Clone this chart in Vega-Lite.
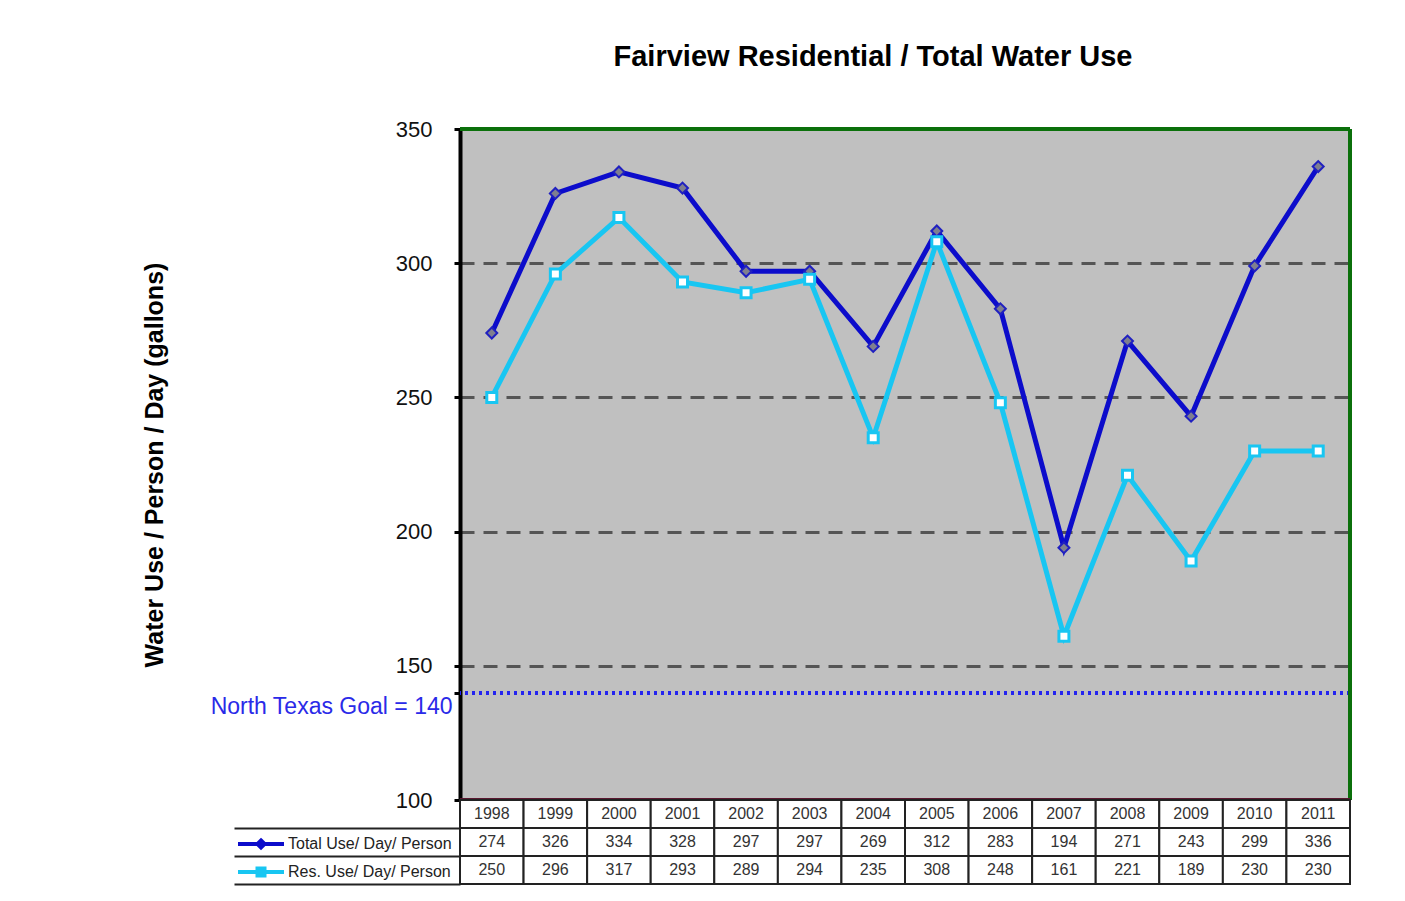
{
  "$schema": "https://vega.github.io/schema/vega-lite/v6.json",
  "padding": {"left": 142, "top": 43, "right": 10, "bottom": 5},
  "background": "white",
  "bounds": "flush",
  "spacing": 0,
  "config": {
    "font": "Liberation Sans",
    "view": {"stroke": null},
    "concat": {"spacing": 0}
  },
  "datasets": {
    "water": [
      {"year": "1998", "series": "Total Use/ Day/ Person", "value": 274},
      {"year": "1999", "series": "Total Use/ Day/ Person", "value": 326},
      {"year": "2000", "series": "Total Use/ Day/ Person", "value": 334},
      {"year": "2001", "series": "Total Use/ Day/ Person", "value": 328},
      {"year": "2002", "series": "Total Use/ Day/ Person", "value": 297},
      {"year": "2003", "series": "Total Use/ Day/ Person", "value": 297},
      {"year": "2004", "series": "Total Use/ Day/ Person", "value": 269},
      {"year": "2005", "series": "Total Use/ Day/ Person", "value": 312},
      {"year": "2006", "series": "Total Use/ Day/ Person", "value": 283},
      {"year": "2007", "series": "Total Use/ Day/ Person", "value": 194},
      {"year": "2008", "series": "Total Use/ Day/ Person", "value": 271},
      {"year": "2009", "series": "Total Use/ Day/ Person", "value": 243},
      {"year": "2010", "series": "Total Use/ Day/ Person", "value": 299},
      {"year": "2011", "series": "Total Use/ Day/ Person", "value": 336},
      {"year": "1998", "series": "Res. Use/ Day/ Person", "value": 250},
      {"year": "1999", "series": "Res. Use/ Day/ Person", "value": 296},
      {"year": "2000", "series": "Res. Use/ Day/ Person", "value": 317},
      {"year": "2001", "series": "Res. Use/ Day/ Person", "value": 293},
      {"year": "2002", "series": "Res. Use/ Day/ Person", "value": 289},
      {"year": "2003", "series": "Res. Use/ Day/ Person", "value": 294},
      {"year": "2004", "series": "Res. Use/ Day/ Person", "value": 235},
      {"year": "2005", "series": "Res. Use/ Day/ Person", "value": 308},
      {"year": "2006", "series": "Res. Use/ Day/ Person", "value": 248},
      {"year": "2007", "series": "Res. Use/ Day/ Person", "value": 161},
      {"year": "2008", "series": "Res. Use/ Day/ Person", "value": 221},
      {"year": "2009", "series": "Res. Use/ Day/ Person", "value": 189},
      {"year": "2010", "series": "Res. Use/ Day/ Person", "value": 230},
      {"year": "2011", "series": "Res. Use/ Day/ Person", "value": 230}
    ]
  },
  "vconcat": [
    {
      "width": 890,
      "height": 671,
      "view": {"fill": "#C0C0C0", "stroke": null},
      "title": {
        "text": "Fairview Residential / Total Water Use",
        "fontSize": 29,
        "fontWeight": "bold",
        "color": "#000000",
        "offset": 46,
        "dx": -32
      },
      "data": {"name": "water"},
      "layer": [
        {
          "mark": {"type": "rule", "color": "#2424F0", "strokeWidth": 3, "strokeDash": [3, 4]},
          "encoding": {"y": {"datum": 140, "type": "quantitative"}}
        },
        {
          "mark": {"type": "line", "strokeWidth": 5},
          "encoding": {
            "x": {"field": "year", "type": "ordinal", "scale": {"type": "point", "padding": 0.5}, "axis": null},
            "y": {
              "field": "value",
              "type": "quantitative",
              "scale": {"domain": [100, 350], "nice": false, "zero": false},
              "axis": {
                "values": [100, 140, 150, 200, 250, 300, 350],
                "title": "Water Use / Person / Day (gallons)",
                "titleFontSize": 25,
                "titleFontWeight": "bold",
                "titleColor": "#000000",
                "titlePadding": 93,
                "labelFontSize": {"condition": {"test": "datum.value == 140", "value": 23}, "value": 22},
                "labelLimit": 320,
                "labelOverlap": false,
                "labelBound": false,
                "labelExpr": "datum.value == 140 ? 'North Texas Goal = 140' : datum.label",
                "labelColor": {"condition": {"test": "datum.value == 140", "value": "#2A2AE8"}, "value": "#111111"},
                "labelOffset": {"condition": {"test": "datum.value == 140", "value": 14}, "value": 0},
                "labelPadding": {"condition": {"test": "datum.value == 140", "value": 2}, "value": 22},
                "tickSize": 6,
                "tickWidth": 3,
                "tickColor": "#000000",
                "domainColor": "#000000",
                "domainWidth": 4,
                "grid": true,
                "gridColor": "#555555",
                "gridWidth": 3,
                "gridDash": [14, 9],
                "gridOpacity": {"condition": {"test": "datum.value == 100 || datum.value == 140 || datum.value == 350", "value": 0}, "value": 1}
              }
            },
            "color": {
              "field": "series",
              "type": "nominal",
              "scale": {"domain": ["Total Use/ Day/ Person", "Res. Use/ Day/ Person"], "range": ["#0C0CCB", "#18C6F2"]},
              "legend": {
                "orient": "none",
                "legendX": -211,
                "legendY": 703,
                "title": null,
                "symbolSize": 400,
                "symbolStrokeWidth": 4,
                "labelFontSize": 16,
                "labelColor": "#222222",
                "labelOffset": 15,
                "labelLimit": 300,
                "rowPadding": 4,
                "encode": {
                  "symbols": {
                    "update": {
                      "shape": {"signal": "datum.value === 'Total Use/ Day/ Person' ? 'M-2.3,0H2.3M0,-0.35L0.35,0L0,0.35L-0.35,0Z' : 'M-2.3,0H2.3M-0.35,-0.35H0.35V0.35H-0.35Z'"},
                      "fill": {"signal": "datum.value === 'Total Use/ Day/ Person' ? '#7F7F8F' : '#FFFFFF'"},
                      "fillOpacity": {"value": 1}
                    }
                  }
                }
              }
            }
          }
        },
        {
          "transform": [{"filter": "datum.series === 'Total Use/ Day/ Person'"}],
          "mark": {"type": "point", "shape": "diamond", "filled": true, "fill": "#7F7F8F", "stroke": "#2020C0", "strokeWidth": 2, "size": 120, "opacity": 1},
          "encoding": {
            "x": {"field": "year", "type": "ordinal"},
            "y": {"field": "value", "type": "quantitative"}
          }
        },
        {
          "transform": [{"filter": "datum.series === 'Res. Use/ Day/ Person'"}],
          "mark": {"type": "point", "shape": "square", "filled": true, "fill": "#FFFFFF", "stroke": "#18C6F2", "strokeWidth": 3, "size": 100, "opacity": 1},
          "encoding": {
            "x": {"field": "year", "type": "ordinal"},
            "y": {"field": "value", "type": "quantitative"}
          }
        },
        {
          "mark": {"type": "rule", "color": "#0B700B", "strokeWidth": 4},
          "encoding": {"y": {"datum": 350, "type": "quantitative"}}
        },
        {
          "mark": {"type": "rule", "color": "#0B700B", "strokeWidth": 4},
          "encoding": {"x": {"value": "width"}}
        },
        {
          "mark": {"type": "rule", "color": "#5A1830", "strokeWidth": 3},
          "encoding": {"y": {"datum": 100, "type": "quantitative"}}
        }
      ]
    },
    {
      "width": 890,
      "height": 84,
      "data": {"name": "water"},
      "encoding": {
        "x": {"field": "year", "type": "ordinal", "scale": {"type": "band", "paddingInner": 0, "paddingOuter": 0}, "axis": null}
      },
      "layer": [
        {
          "mark": {"type": "rect", "fill": "#FFFFFF", "stroke": "#222222", "strokeWidth": 2},
          "encoding": {
            "y": {
              "field": "series",
              "type": "nominal",
              "scale": {"domain": ["Year", "Total Use/ Day/ Person", "Res. Use/ Day/ Person"], "paddingInner": 0, "paddingOuter": 0},
              "axis": {
                "title": null,
                "labels": false,
                "domain": false,
                "grid": false,
                "tickBand": "extent",
                "tickSize": 226,
                "tickWidth": 2,
                "tickColor": "#222222",
                "tickOpacity": {"condition": {"test": "datum.extra || datum.value == null", "value": 0}, "value": 1}
              }
            }
          }
        },
        {
          "transform": [{"filter": "datum.series === 'Total Use/ Day/ Person'"}],
          "mark": {"type": "rect", "fill": "#FFFFFF", "stroke": "#222222", "strokeWidth": 2},
          "encoding": {"y": {"datum": "Year", "type": "nominal"}}
        },
        {
          "mark": {"type": "text", "fontSize": 16, "color": "#333333"},
          "encoding": {
            "y": {"field": "series", "type": "nominal"},
            "text": {"field": "value", "type": "quantitative"}
          }
        },
        {
          "transform": [{"filter": "datum.series === 'Total Use/ Day/ Person'"}],
          "mark": {"type": "text", "fontSize": 16, "color": "#333333"},
          "encoding": {
            "y": {"datum": "Year", "type": "nominal"},
            "text": {"field": "year", "type": "nominal"}
          }
        }
      ]
    }
  ]
}
